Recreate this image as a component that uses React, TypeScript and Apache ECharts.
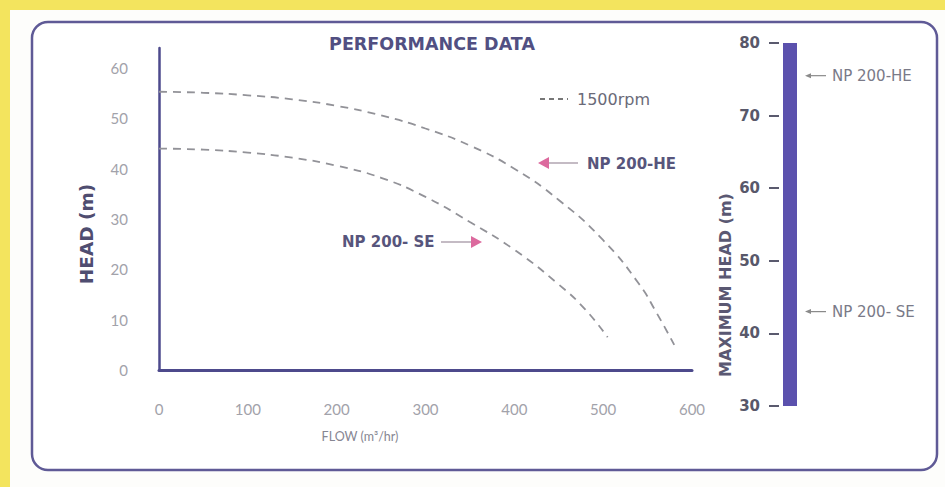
import React, { useEffect, useRef } from "react";
import * as echarts from "echarts";

// ---- data ----
const flowTicks = [0, 100, 200, 300, 400, 500, 600];
const headTicks = [0, 10, 20, 30, 40, 50, 60];

const heFlow = [0, 50, 100, 150, 200, 250, 300, 350, 400, 450, 500, 540, 560, 580];
const heHead = [55.3, 55.1, 54.6, 53.8, 52.5, 50.6, 48.0, 44.6, 40.0, 33.8, 25.8, 17.2, 11.4, 5];

const seFlow = [0, 50, 100, 150, 200, 250, 300, 350, 400, 450, 480, 505];
const seHead = [44, 43.8, 43.2, 42.2, 40.6, 38.2, 34.4, 29.4, 23.9, 17.0, 12.0, 6.5];

const maxHeadRange = [30, 80];
const maxHeadNames = ["NP 200-HE", "NP 200- SE"];
const maxHeadValues = [75.5, 43];

const AXIS_DARK = "#4d4a8c";
const LABEL_GRAY = "#a2a2aa";
const TEXT_DARK = "#57557c";
const CURVE = "#929298";
const PINK = "#dc6a9e";
const WIDE = "DejaVu Sans, Verdana, sans-serif";

export default function App() {
  const ref = useRef<HTMLDivElement>(null);

  useEffect(() => {
    if (!ref.current) return;
    const chart = echarts.init(ref.current, undefined, { renderer: "svg" });

    const he = heFlow.map((f, i) => [f, heHead[i]]);
    const se = seFlow.map((f, i) => [f, seHead[i]]);

    const option: any = {
      animation: false,
      backgroundColor: "#f3e45e",
      textStyle: { fontFamily: "Lato, Open Sans, sans-serif" },
      grid: [
        { left: 159, right: 253, top: 48, bottom: 117 },
        { left: 779, width: 22, top: 43, bottom: 81 },
      ],
      xAxis: [
        {
          gridIndex: 0,
          type: "value",
          min: 0,
          max: 600,
          interval: 100,
          splitLine: { show: false },
          axisTick: { show: false },
          axisLine: { show: true, lineStyle: { color: AXIS_DARK, width: 3 } },
          axisLabel: {
            color: LABEL_GRAY,
            fontSize: 15,
            margin: 31,
            fontFamily: "Lato, Open Sans, sans-serif",
            formatter: (v: number) => (flowTicks.indexOf(v) >= 0 ? String(v) : ""),
          },
        },
        {
          gridIndex: 1,
          type: "category",
          data: ["max"],
          show: false,
        },
      ],
      yAxis: [
        {
          gridIndex: 0,
          type: "value",
          min: 0,
          max: 64,
          interval: 10,
          splitLine: { show: false },
          axisTick: { show: false },
          axisLine: { show: true, lineStyle: { color: AXIS_DARK, width: 2.5 } },
          axisLabel: {
            color: LABEL_GRAY,
            fontSize: 15,
            margin: 31,
            fontFamily: "Lato, Open Sans, sans-serif",
            formatter: (v: number) => (headTicks.indexOf(v) >= 0 ? String(v) : ""),
          },
        },
        {
          gridIndex: 1,
          type: "value",
          min: maxHeadRange[0],
          max: maxHeadRange[1],
          interval: 10,
          splitLine: { show: false },
          axisLine: { show: false },
          axisTick: { show: true, length: 10, inside: false, lineStyle: { color: "#5a5a6e", width: 2 } },
          axisLabel: {
            color: "#58586a",
            fontSize: 15,
            fontWeight: "bold",
            margin: 19,
            fontFamily: WIDE,
          },
        },
      ],
      series: [
        {
          name: "NP 200-HE",
          type: "line",
          xAxisIndex: 0,
          yAxisIndex: 0,
          data: he,
          smooth: 0.5,
          showSymbol: false,
          lineStyle: { color: CURVE, width: 1.8, type: [8, 6] },
        },
        {
          name: "NP 200- SE",
          type: "line",
          xAxisIndex: 0,
          yAxisIndex: 0,
          data: se,
          smooth: 0.5,
          showSymbol: false,
          lineStyle: { color: CURVE, width: 1.8, type: [8, 6] },
        },
        {
          name: "Maximum head",
          type: "custom",
          xAxisIndex: 1,
          yAxisIndex: 1,
          data: [[0, maxHeadRange[0], maxHeadRange[1]]],
          renderItem: (params: any, api: any) => {
            const lo = api.coord([0, api.value(1)]);
            const hi = api.coord([0, api.value(2)]);
            return {
              type: "rect",
              shape: { x: lo[0] - 7, y: hi[1], width: 14, height: lo[1] - hi[1] },
              style: { fill: "#5b51ad" },
            };
          },
        },
        {
          name: "Max head labels",
          type: "custom",
          xAxisIndex: 1,
          yAxisIndex: 1,
          clip: false,
          data: maxHeadValues.map((v, i) => [0, v, maxHeadNames[i]]),
          renderItem: (params: any, api: any) => {
            const p = api.coord([0, api.value(1)]);
            const name = maxHeadNames[params.dataIndex];
            const x0 = p[0] + 15;
            return {
              type: "group",
              children: [
                {
                  type: "line",
                  shape: { x1: x0 + 3, y1: p[1], x2: x0 + 21, y2: p[1] },
                  style: { stroke: "#8a8a8a", lineWidth: 1.2 },
                },
                {
                  type: "polygon",
                  shape: { points: [[x0, p[1]], [x0 + 6, p[1] - 2.5], [x0 + 6, p[1] + 2.5]] },
                  style: { fill: "#8a8a8a" },
                },
                {
                  type: "text",
                  x: x0 + 27,
                  y: p[1],
                  style: {
                    text: name,
                    fill: "#7a7a88",
                    fontSize: 15,
                    fontFamily: WIDE,
                    verticalAlign: "middle",
                  },
                },
              ],
            };
          },
        },
      ],
      graphic: [
        {
          type: "rect",
          z: -20,
          silent: true,
          shape: { x: 10, y: 10, width: 935, height: 477 },
          style: { fill: "#fdfdfb" },
        },
        {
          type: "rect",
          z: -10,
          silent: true,
          shape: { x: 32, y: 22, width: 905, height: 448, r: 16 },
          style: { fill: "#ffffff", stroke: "#5f5a96", lineWidth: 2.5 },
        },
        {
          type: "text",
          x: 432,
          y: 44,
          style: {
            text: "PERFORMANCE DATA",
            fill: "#514f82",
            fontSize: 17.5,
            fontWeight: "bold",
            fontFamily: WIDE,
            align: "center",
            verticalAlign: "middle",
          },
        },
        {
          type: "text",
          x: 86,
          y: 234,
          rotation: Math.PI / 2,
          style: {
            text: "HEAD (m)",
            fill: "#4f4d70",
            fontSize: 18.5,
            fontWeight: "bold",
            fontFamily: WIDE,
            align: "center",
            verticalAlign: "middle",
          },
        },
        {
          type: "text",
          x: 725,
          y: 285,
          rotation: Math.PI / 2,
          style: {
            text: "MAXIMUM HEAD (m)",
            fill: "#5a5872",
            fontSize: 16,
            fontWeight: "bold",
            fontFamily: WIDE,
            align: "center",
            verticalAlign: "middle",
          },
        },
        {
          type: "text",
          x: 360,
          y: 436,
          style: {
            text: "FLOW (m³/hr)",
            fill: "#868692",
            fontSize: 12.5,
            fontFamily: "Lato, Open Sans, sans-serif",
            align: "center",
            verticalAlign: "middle",
          },
        },
        // legend "- - - 1500rpm"
        {
          type: "line",
          shape: { x1: 540, y1: 99, x2: 568, y2: 99 },
          style: { stroke: "#777", lineWidth: 2, lineDash: [5, 4] },
        },
        {
          type: "text",
          x: 577,
          y: 99,
          style: {
            text: "1500rpm",
            fill: "#6a6a78",
            fontSize: 16,
            fontFamily: WIDE,
            verticalAlign: "middle",
          },
        },
        // NP 200-HE label with pink arrow pointing left
        {
          type: "line",
          shape: { x1: 546, y1: 163, x2: 578, y2: 163 },
          style: { stroke: "#b0a4b0", lineWidth: 1.5 },
        },
        {
          type: "polygon",
          shape: { points: [[538, 163], [549, 157], [549, 169]] },
          style: { fill: PINK },
        },
        {
          type: "text",
          x: 587,
          y: 164,
          style: {
            text: "NP 200-HE",
            fill: TEXT_DARK,
            fontSize: 15,
            fontWeight: "bold",
            fontFamily: WIDE,
            verticalAlign: "middle",
          },
        },
        // NP 200- SE label with pink arrow pointing right
        {
          type: "text",
          x: 342,
          y: 242,
          style: {
            text: "NP 200- SE",
            fill: TEXT_DARK,
            fontSize: 15,
            fontWeight: "bold",
            fontFamily: WIDE,
            verticalAlign: "middle",
          },
        },
        {
          type: "line",
          shape: { x1: 441, y1: 242, x2: 474, y2: 242 },
          style: { stroke: "#b0a4b0", lineWidth: 1.5 },
        },
        {
          type: "polygon",
          shape: { points: [[482, 242], [471, 236], [471, 248]] },
          style: { fill: PINK },
        },
      ],
    };

    chart.setOption(option);
    return () => chart.dispose();
  }, []);

  return (
    <div
      ref={ref}
      style={{ position: "fixed", left: 0, top: 0, width: 945, height: 487 }}
    />
  );
}
